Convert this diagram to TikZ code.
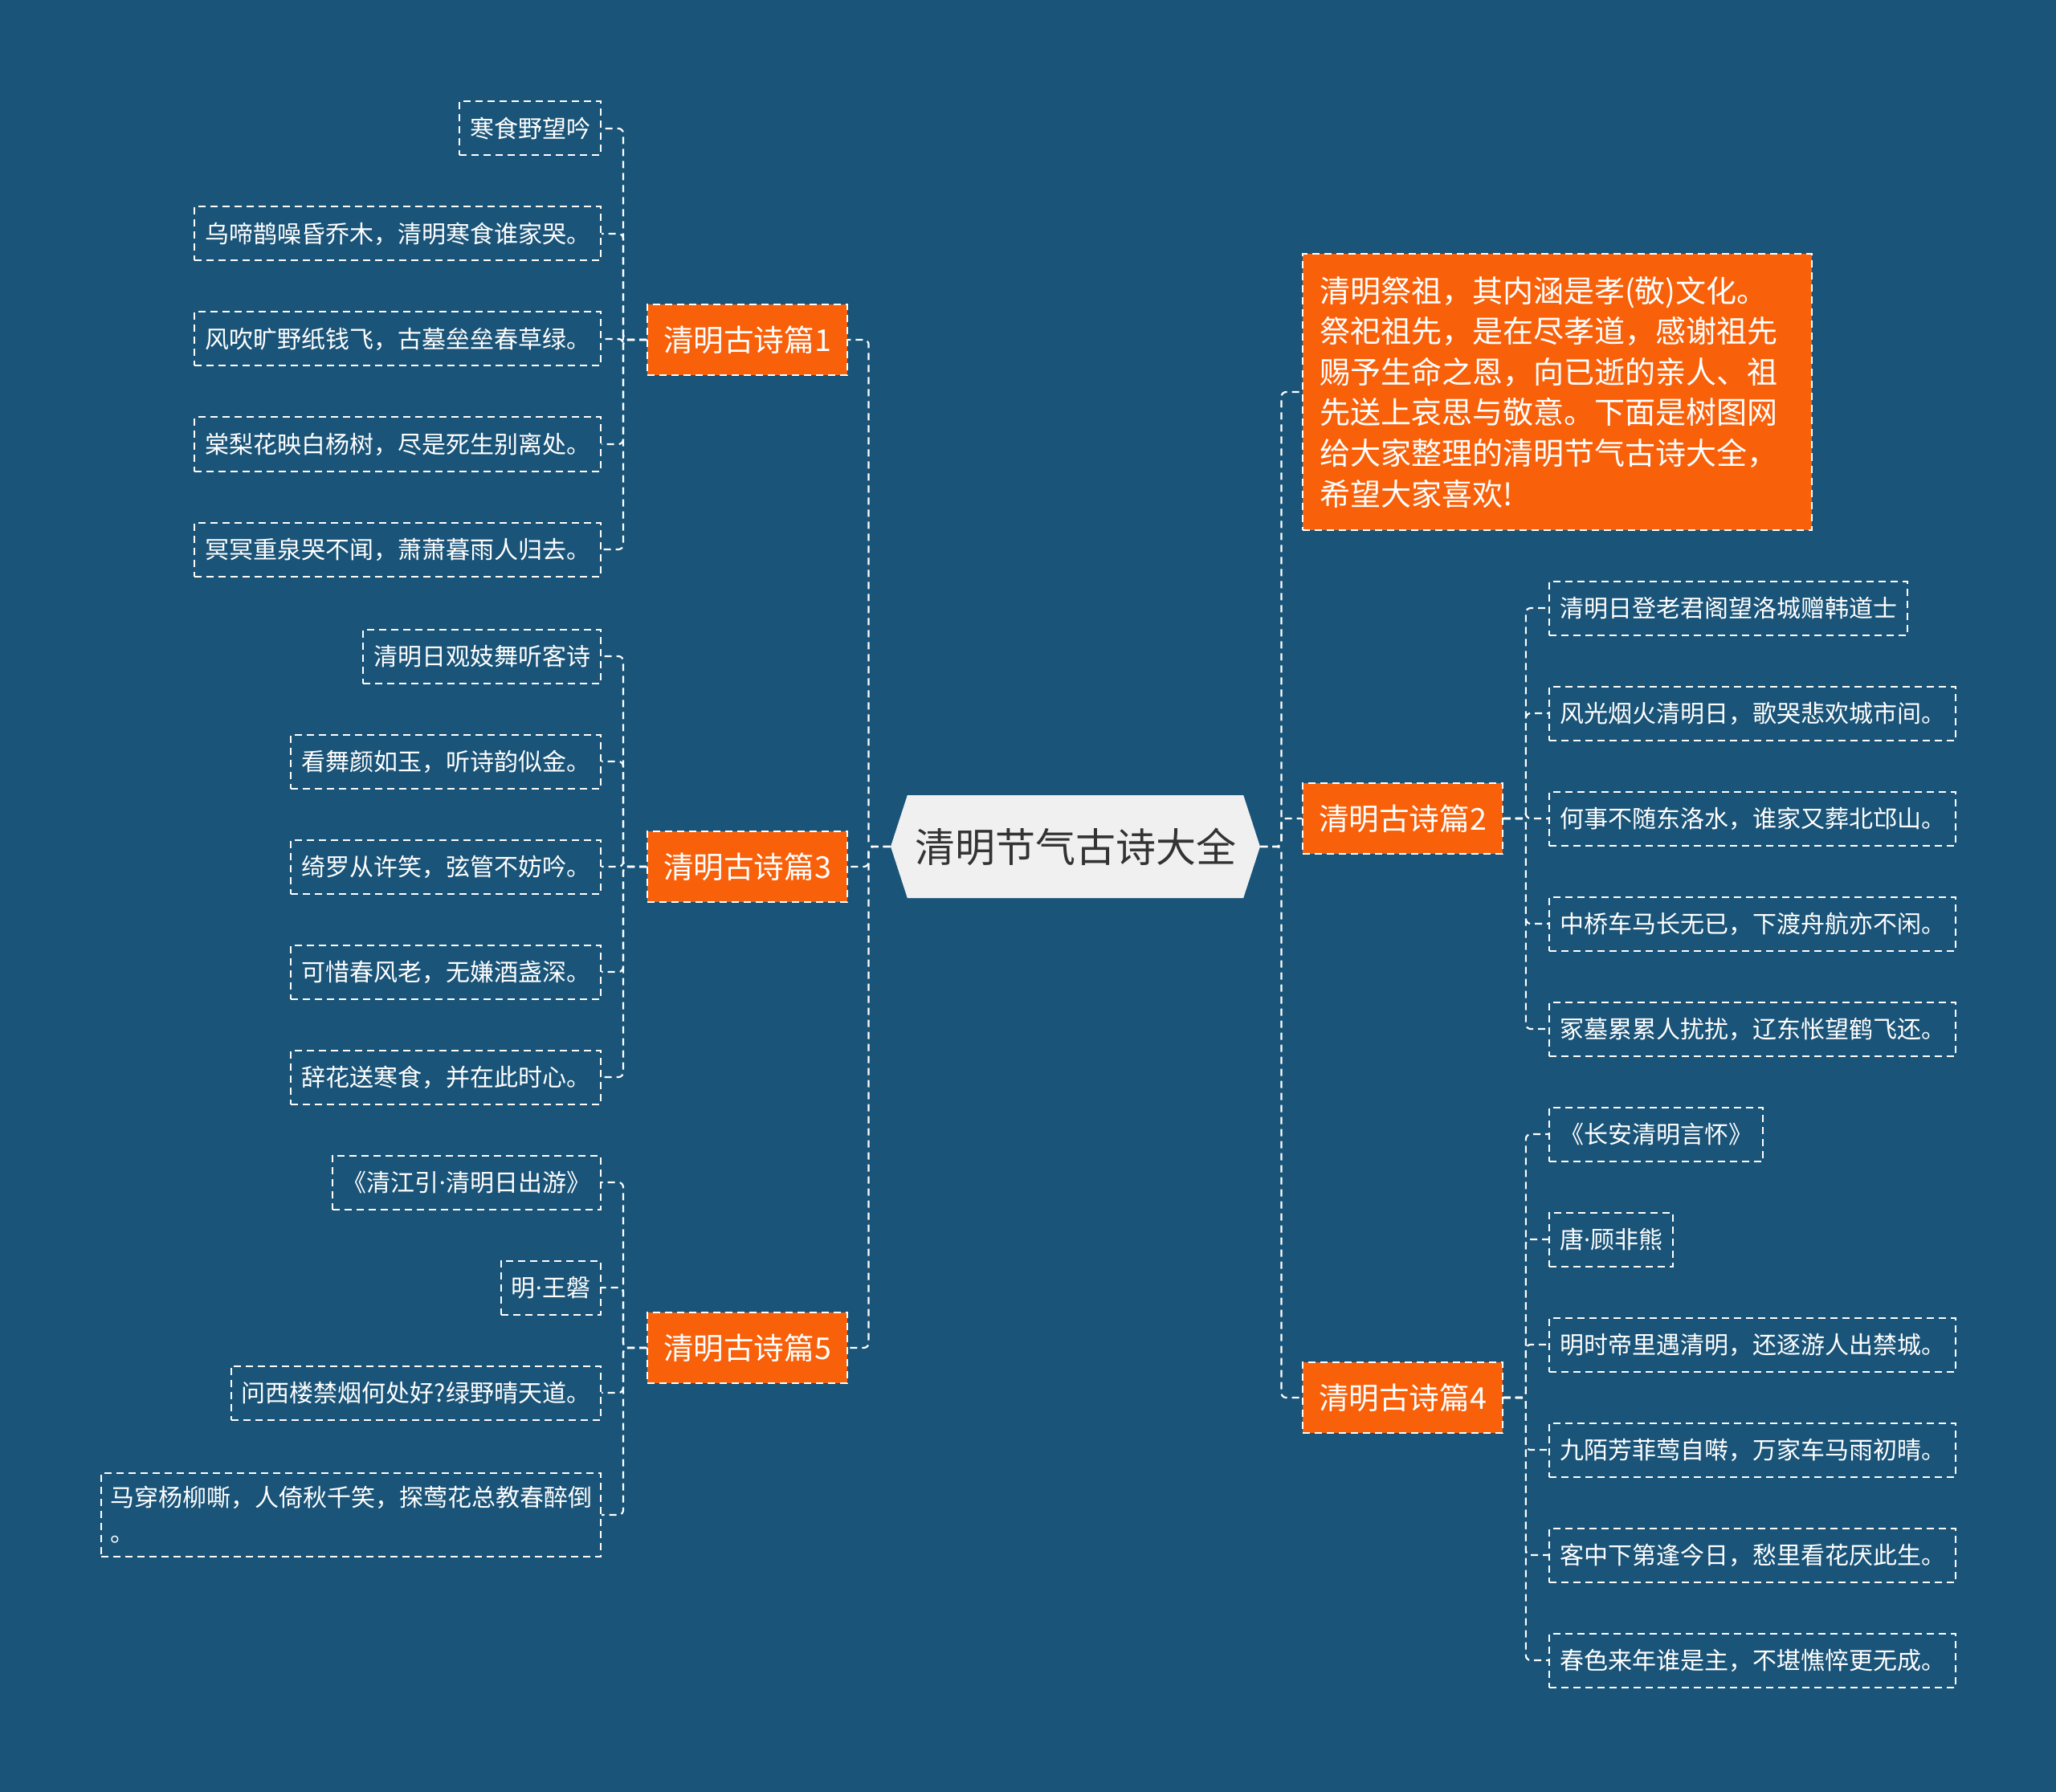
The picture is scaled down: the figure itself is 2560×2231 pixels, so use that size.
\documentclass[tikz,border=0pt]{standalone}
\usepackage{fontspec}
\setmainfont{Noto Sans CJK SC}
\newfontfamily\dotfont{Noto Sans}
\newcommand{\mdot}{{\dotfont ·}}
\usepackage{tikz}
\usetikzlibrary{shapes.symbols}
\definecolor{bgblue}{HTML}{1A5478}
\definecolor{topicorange}{HTML}{F8600A}
\definecolor{rootgray}{HTML}{F0F0F0}
\definecolor{roottext}{HTML}{333333}
\setlength{\parindent}{0pt}

\begin{document}
\begin{tikzpicture}[x=0.5pt,y=-0.5pt,
  link/.style={white,line width=1.1pt,dash pattern=on 4.5pt off 3pt,rounded corners=3pt},
  leaf/.style={draw=white,line width=1pt,dash pattern=on 4.5pt off 3pt,text=white,
    font=\fontsize{15pt}{22pt}\selectfont,inner xsep=6.5pt,inner ysep=0pt,minimum height=33.5pt},
  topic/.style={fill=topicorange,draw=white,line width=1pt,dash pattern=on 4.5pt off 3pt,
    text=white,font=\fontsize{18.8pt}{22pt}\selectfont,inner xsep=10pt,minimum height=44pt},
  root/.style={signal,signal to=east and west,signal pointer angle=144,fill=rootgray,
    text=roottext,font=\fontsize{25pt}{30pt}\selectfont,minimum height=64pt,minimum width=230pt}]
  % background
  \fill[bgblue] (0,0) rectangle (2560,2231);
  \node[root] (root) at (1339,1054) {清明节气古诗大全};
  % left topics
  \node[topic,anchor=west] (t1) at (805,423) {清明古诗篇1};
  \node[topic,anchor=west] (t3) at (805,1079) {清明古诗篇3};
  \node[topic,anchor=west] (t5) at (805,1678) {清明古诗篇5};
  % right topics
  \node[topic,anchor=west,align=left,text width=296pt,inner xsep=10.5pt,minimum height=171.5pt,
    font=\fontsize{19pt}{25.3pt}\selectfont] (intro) at (1621,488)
    {清明祭祖，其内涵是孝(敬)文化。\\祭祀祖先，是在尽孝道，感谢祖先\\赐予生命之恩，向已逝的亲人、祖\\先送上哀思与敬意。下面是树图网\\给大家整理的清明节气古诗大全，\\希望大家喜欢!};
  \node[topic,anchor=west] (t2) at (1621,1019) {清明古诗篇2};
  \node[topic,anchor=west] (t4) at (1621,1740) {清明古诗篇4};
  % leaves of 篇1
  \node[leaf,anchor=east] (t1a) at (749,160) {寒食野望吟};
  \node[leaf,anchor=east] (t1b) at (749,291) {乌啼鹊噪昏乔木，清明寒食谁家哭。};
  \node[leaf,anchor=east] (t1c) at (749,422) {风吹旷野纸钱飞，古墓垒垒春草绿。};
  \node[leaf,anchor=east] (t1d) at (749,553) {棠梨花映白杨树，尽是死生别离处。};
  \node[leaf,anchor=east] (t1e) at (749,684) {冥冥重泉哭不闻，萧萧暮雨人归去。};
  % leaves of 篇3
  \node[leaf,anchor=east] (t3a) at (749,817) {清明日观妓舞听客诗};
  \node[leaf,anchor=east] (t3b) at (749,948) {看舞颜如玉，听诗韵似金。};
  \node[leaf,anchor=east] (t3c) at (749,1079) {绮罗从许笑，弦管不妨吟。};
  \node[leaf,anchor=east] (t3d) at (749,1210) {可惜春风老，无嫌酒盏深。};
  \node[leaf,anchor=east] (t3e) at (749,1341) {辞花送寒食，并在此时心。};
  % leaves of 篇5
  \node[leaf,anchor=east] (t5a) at (749,1472) {《清江引\mdot 清明日出游》};
  \node[leaf,anchor=east] (t5b) at (749,1603) {明\mdot 王磐};
  \node[leaf,anchor=east] (t5c) at (749,1734) {问西楼禁烟何处好?绿野晴天道。};
  \node[leaf,anchor=east,align=left,minimum height=52pt,inner xsep=5.5pt] (t5d) at (749,1886)
    {马穿杨柳嘶，人倚秋千笑，探莺花总教春醉倒\\。};
  % leaves of 篇2
  \node[leaf,anchor=west] (t2a) at (1928,757) {清明日登老君阁望洛城赠韩道士};
  \node[leaf,anchor=west] (t2b) at (1928,888) {风光烟火清明日，歌哭悲欢城市间。};
  \node[leaf,anchor=west] (t2c) at (1928,1019) {何事不随东洛水，谁家又葬北邙山。};
  \node[leaf,anchor=west] (t2d) at (1928,1150) {中桥车马长无已，下渡舟航亦不闲。};
  \node[leaf,anchor=west] (t2e) at (1928,1281) {冢墓累累人扰扰，辽东怅望鹤飞还。};
  % leaves of 篇4
  \node[leaf,anchor=west] (t4a) at (1928,1412) {《长安清明言怀》};
  \node[leaf,anchor=west] (t4b) at (1928,1543) {唐\mdot 顾非熊};
  \node[leaf,anchor=west] (t4c) at (1928,1674) {明时帝里遇清明，还逐游人出禁城。};
  \node[leaf,anchor=west] (t4d) at (1928,1805) {九陌芳菲莺自啭，万家车马雨初晴。};
  \node[leaf,anchor=west] (t4e) at (1928,1936) {客中下第逢今日，愁里看花厌此生。};
  \node[leaf,anchor=west] (t4f) at (1928,2067) {春色来年谁是主，不堪憔悴更无成。};
  % links
  \foreach \t in {t1,t3,t5} \draw[link] (root.west) -- ++(-27,0) |- (\t.east);
  \foreach \t in {intro,t2,t4} \draw[link] (root.east) -- ++(26,0) |- (\t.west);
  \foreach \t/\n in {t1/{a,b,c,d,e},t3/{a,b,c,d,e},t5/{a,b,c,d}}
    \foreach \l in \n \draw[link] (\t.west) -- ++(-29,0) |- (\t\l.east);
  \foreach \t/\n in {t2/{a,b,c,d,e},t4/{a,b,c,d,e,f}}
    \foreach \l in \n \draw[link] (\t.east) -- ++(28,0) |- (\t\l.west);
\end{tikzpicture}
\end{document}
